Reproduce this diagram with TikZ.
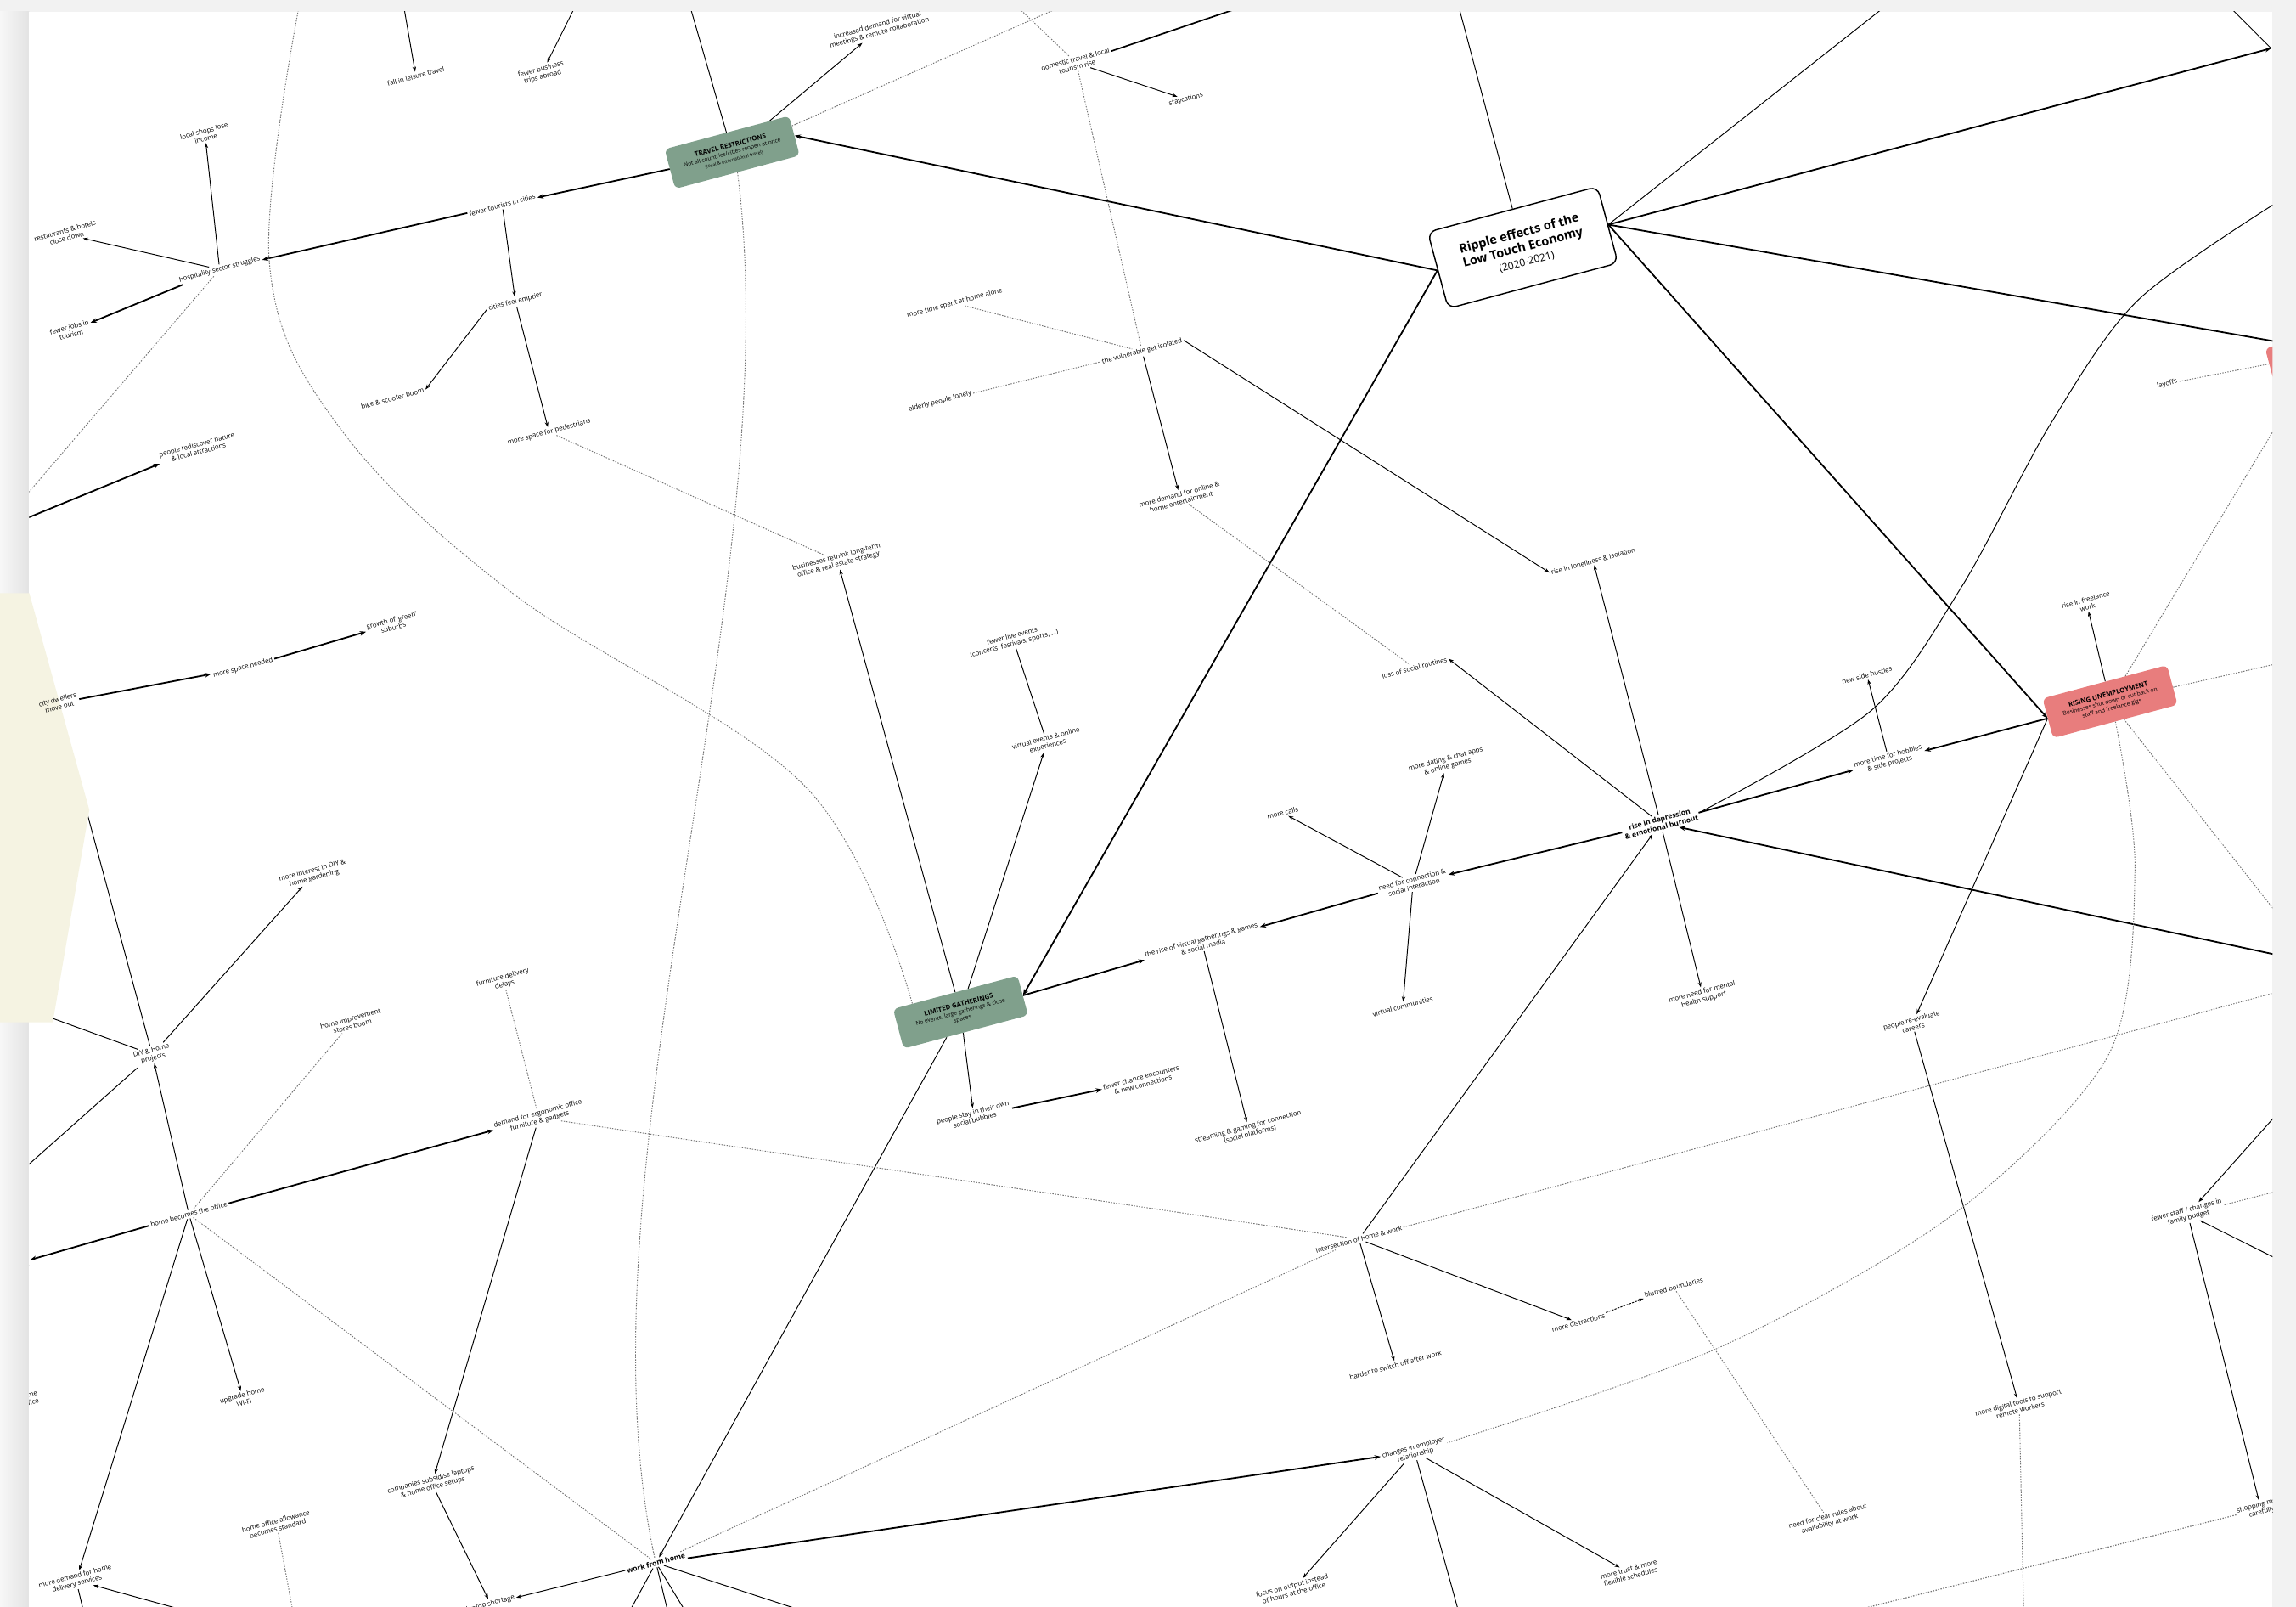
\documentclass[tikz,border=0pt]{standalone}
\usepackage{fontspec}
\setmainfont{Open Sans}
\usetikzlibrary{arrows.meta,positioning}
\pgfdeclarelayer{paper}
\pgfdeclarelayer{links}
\pgfsetlayers{paper,links,main}

\definecolor{sage}{RGB}{128,160,140}
\definecolor{salmon}{RGB}{232,125,125}
\definecolor{cream}{RGB}{245,243,226}

\tikzset{
	lbl/.style = {
		font=\fontsize{6.5}{7.5}\selectfont,
		align=center,
		rotate=15,
		inner sep=1.5pt
	},
	lblb/.style = {
		lbl,
		font=\fontsize{7}{8}\selectfont\bfseries
	},
	hub/.style = {
		draw,
		line width=1.2pt,
		fill=white,
		rounded corners=8pt,
		rotate=15,
		minimum width=6cm,
		minimum height=2.7cm,
		align=center,
		font=\fontsize{12}{14}\selectfont
	},
	topic/.style = {
		rounded corners=5pt,
		rotate=15,
		minimum width=4.4cm,
		minimum height=1.4cm,
		align=center,
		inner sep=2pt,
		font=\fontsize{5.5}{6.8}\selectfont
	},
	greentopic/.style = {topic, fill=sage},
	redtopic/.style = {topic, fill=salmon},
	link/.style = {
		-{Stealth[length=5pt,width=3.5pt]},
		line width=0.8pt
	},
	thicklink/.style = {
		-{Stealth[length=6pt,width=4.5pt]},
		line width=1.5pt
	},
	solidline/.style = {line width=0.8pt},
	hint/.style = {
		black!55,
		line width=0.8pt,
		dash pattern=on 1.2pt off 1.3pt
	}
}

\newcommand{\topichead}[1]{{\fontsize{6.5}{8}\selectfont\bfseries #1}}

\begin{document}
\begin{tikzpicture}[x=0.05cm, y=-0.05cm]
	\useasboundingbox (0,0) rectangle (1568,1097);

	% --- sheet and shadow ---
	\begin{pgfonlayer}{paper}
		\fill[gray!10] (0,0) rectangle (1568,1097);
		\fill[left color=gray!6, right color=gray!22] (0,8) rectangle (20,1097);
		\fill[white] (20,8) rectangle (1552,1097);
	\end{pgfonlayer}

	% beige shape on the left margin
	\fill[cream] (0,405) -- (20,405) -- (61,553) -- (36,698) -- (0,698) -- cycle;

	\begin{scope}
		\clip (20,8) rectangle (1552,1097);

		% --- centre and topics ---
		\node[hub] (hub) at (1040,169) {\textbf{Ripple effects of the}\\\textbf{Low Touch Economy}\\{\fontsize{10}{12}\selectfont (2020-2021)}};
		\node[greentopic] (g1) at (500,104) {\topichead{TRAVEL RESTRICTIONS}\\Not all countries/cities reopen at once\\{\fontsize{4.5}{5.5}\selectfont (local \& international travel)}};
		\node[greentopic] (g2) at (656,691) {\topichead{LIMITED GATHERINGS}\\No events, large gatherings \& close\\spaces};
		\node[redtopic] (r1) at (1441,479) {\topichead{RISING UNEMPLOYMENT}\\Businesses shut down or cut back on\\staff and freelance gigs};
		\node[redtopic] (r2) at (1593,240) {\topichead{BUSINESS CLOSURES}};

		% --- top left ---
		\node[lbl] (a1) at (284,52) {fall in leisure travel};
		\node[lbl] (a2) at (370,50) {fewer business\\trips abroad};
		\node[lbl] (a3) at (600,20) {increased demand for virtual\\meetings \& remote collaboration};
		\node[lbl] (a4) at (735,43) {domestic travel \& local\\tourism rise};
		\node[lbl] (a5) at (810,68) {staycations};
		\node[lbl] (b1) at (343,140) {fewer tourists in cities};
		\node[lbl] (b2) at (150,184) {hospitality sector struggles};
		\node[lbl] (b3) at (140,92) {local shops lose\\income};
		\node[lbl] (b4) at (45,160) {restaurants \& hotels\\close down};
		\node[lbl] (b5) at (48,226) {fewer jobs in\\tourism};
		\node[lbl] (b6) at (352,206) {cities feel emptier};
		\node[lbl] (b7) at (375,295) {more space for pedestrians};
		\node[lbl] (b8) at (135,306) {people rediscover nature\\\& local attractions};
		\node[lbl] (b9) at (8,358) {travellers\\stay};
		\node[lbl] (b10) at (268,272) {bike \& scooter boom};
		\node[lbl] (l1) at (40,480) {city dwellers\\move out};
		\node[lbl] (l2) at (166,456) {more space needed};
		\node[lbl] (l3) at (268,426) {growth of `green'\\suburbs};

		% --- middle ---
		\node[lbl] (c1) at (572,383) {businesses rethink long-term\\office \& real estate strategy};
		\node[lbl] (c2) at (692,437) {fewer live events\\(concerts, festivals, sports, ...)};
		\node[lbl] (c3) at (715,507) {virtual events \& online\\experiences};
		\node[lbl] (c4) at (652,207) {more time spent at home alone};
		\node[lbl] (c5) at (780,240) {the vulnerable get isolated};
		\node[lbl] (c6) at (642,274) {elderly people lonely};
		\node[lbl] (c7) at (806,340) {more demand for online \&\\home entertainment};
		\node[lbl] (d1) at (1088,383) {rise in loneliness \& isolation};
		\node[lbl] (d2) at (966,456) {loss of social routines};
		\node[lblb] (d3) at (1134,562) {rise in depression\\\& emotional burnout};
		\node[lbl] (d5) at (1163,680) {more need for mental\\health support};
		\node[lbl] (d6) at (965,603) {need for connection \&\\social interaction};
		\node[lbl] (d7) at (876,555) {more calls};
		\node[lbl] (d8) at (988,521) {more dating \& chat apps\\\& online games};
		\node[lbl] (d9) at (958,687) {virtual communities};
		\node[lbl] (d10) at (821,644) {the rise of virtual gatherings \& games\\\& social media};
		\node[lbl] (d11) at (853,772) {streaming \& gaming for connection\\(social platforms)};
		\node[lbl] (g2a) at (665,762) {people stay in their own\\social bubbles};
		\node[lbl] (g2b) at (780,738) {fewer chance encounters\\\& new connections};

		% --- right ---
		\node[lbl] (e1) at (1290,519) {more time for hobbies\\\& side projects};
		\node[lbl] (e3) at (1275,461) {new side hustles};
		\node[lbl] (e2) at (1306,699) {people re-evaluate\\careers};
		\node[lbl] (e4) at (1425,412) {rise in freelance\\work};
		\node[lbl] (e5) at (1480,262) {layoffs};
		\node[lbl] (m1) at (1379,960) {more digital tools to support\\remote workers};
		\node[lbl] (n1) at (1494,829) {fewer staff / changes in\\family budget};
		\node[lbl] (n2) at (1544,1030) {shopping more\\carefully};

		% --- bottom ---
		\node[lbl] (f1) at (928,846) {intersection of home \& work};
		\node[lbl] (f2) at (953,932) {harder to switch off after work};
		\node[lbl] (f3) at (1078,903) {more distractions};
		\node[lbl] (f4) at (1143,879) {blurred boundaries};
		\node[lbl] (f5) at (1249,1038) {need for clear rules about\\availability at work};
		\node[lblb] (h1) at (448,1067) {work from home};
		\node[lbl] (i1) at (966,991) {changes in employer\\relationship};
		\node[lbl] (i2) at (883,1085) {focus on output instead\\of hours at the office};
		\node[lbl] (i3) at (1113,1074) {more trust \& more\\flexible schedules};

		% --- bottom left ---
		\node[lbl] (k1) at (129,829) {home becomes the office};
		\node[lbl] (k2) at (368,763) {demand for ergonomic office\\furniture \& gadgets};
		\node[lbl] (k3) at (104,720) {DIY \& home\\projects};
		\node[lbl] (k4) at (166,955) {upgrade home\\Wi-Fi};
		\node[lbl] (k5) at (52,1079) {more demand for home\\delivery services};
		\node[lbl] (k6) at (240,698) {home improvement\\stores boom};
		\node[lbl] (k7) at (214,597) {more interest in DIY \&\\home gardening};
		\node[lbl] (k8) at (295,1013) {companies subsidise laptops\\\& home office setups};
		\node[lbl] (k9) at (344,670) {furniture delivery\\delays};
		\node[lbl] (k10) at (335,1095) {laptop shortage};
		\node[lbl] (k11) at (189,1041) {home office allowance\\becomes standard};
		\node[lbl] (p1) at (14,862) {more\\work};
		\node[lbl] (p2) at (20,955) {home\\office};
	\end{scope}

	% --- loose ends running off the sheet ---
	\coordinate (offtr) at (1551,33);
	\coordinate (offt1) at (995,0);
	\coordinate (offt2) at (1293,0);
	\coordinate (offt3) at (1518,0);
	\coordinate (offa1) at (275,0);
	\coordinate (offa2) at (395,0);
	\coordinate (offg1) at (470,0);
	\coordinate (offg1b) at (735,0);
	\coordinate (offa4) at (690,0);
	\coordinate (offa4b) at (862,0);
	\coordinate (offb2) at (12,345);
	\coordinate (offk3) at (50,520);
	\coordinate (offk3b) at (16,688);
	\coordinate (offk3c) at (14,800);
	\coordinate (offd3) at (1560,653);
	\coordinate (offr1a) at (1560,452);
	\coordinate (offr1b) at (1560,630);
	\coordinate (offr1c) at (1555,290);
	\coordinate (offf1) at (1560,676);
	\coordinate (offn1a) at (1560,755);
	\coordinate (offn1b) at (1560,862);
	\coordinate (offn1c) at (1560,812);
	\coordinate (offn2) at (1265,1100);
	\coordinate (offm1) at (1382,1100);
	\coordinate (offi1) at (996,1100);
	\coordinate (offk11) at (200,1100);
	\coordinate (offk5) at (128,1100);
	\coordinate (offk5b) at (57,1100);

	\begin{pgfonlayer}{links}
	\begin{scope}
		\clip (20,8) rectangle (1552,1097);

		% centre
		\draw[thicklink] (hub.west) -- (g1.east);
		\draw[thicklink] (hub.west) -- (g2.east);
		\draw[thicklink] (hub.east) -- (r1.west);
		\draw[thicklink] (hub.east) -- (r2);
		\draw[thicklink] (hub.east) -- (offtr);
		\draw[solidline] (hub.north) -- (offt1);
		\draw[solidline] (hub.east) -- (offt2);
		\draw[solidline] (offt3) -- (offtr);

		% travel restrictions
		\draw[thicklink] (g1.west) -- (b1);
		\draw[thicklink] (b1) -- (b2);
		\draw[thicklink] (b2) -- (b5);
		\draw[link] (b2) -- (b3);
		\draw[link] (b2) -- (b4);
		\draw[link] (b1) -- (b6);
		\draw[link] (b6) -- (b7);
		\draw[link] (b6.west) -- (b10.east);
		\draw[link] (g1) -- (a3);
		\draw[solidline] (offg1) -- (g1);
		\draw[link] (offa1) -- (a1);
		\draw[link] (offa2) -- (a2);
		\draw[link] (a4) -- (a5);
		\draw[solidline, line width=1.4pt] (a4) -- (offa4b);
		\draw[thicklink] (b9) -- (b8);
		\draw[thicklink] (l1) -- (l2);
		\draw[thicklink] (l2) -- (l3);
		\draw[hint] (g1) -- (offg1b);
		\draw[hint] (offa4) -- (a4);
		\draw[hint] (a4) -- (c5);
		\draw[hint] (b2) -- (offb2);
		\draw[hint] (b7) -- (c1);
		\draw[hint] plot[smooth, tension=0.6] coordinates {(205,0) (184,180) (232,292) (350,405) (550,537) (g2.155)};
		\draw[hint] (g1.south) .. controls (540,400) and (390,800) .. (h1.north);

		% isolation
		\draw[hint] (c4) -- (c5);
		\draw[hint] (c6) -- (c5);
		\draw[link] (c5) -- (c7);
		\draw[link] (c5.east) -- (d1.west);
		\draw[hint] (c7) -- (d2);
		\draw[link] (d3) -- (d2.east);
		\draw[link] (d3) -- (d1);
		\draw[link] (d3) -- (d5);
		\draw[thicklink] (d3) -- (e1);
		\draw[thicklink] (d3) -- (d6);
		\draw[link] (f1) -- (d3);
		\draw[thicklink] (offd3) -- (d3);
		\draw[solidline] plot[smooth] coordinates {(d3.east) (1278,485) (1340,400) (1400,290) (1460,205) (1560,135)};
		\draw[link] (d6) -- (d7);
		\draw[link] (d6) -- (d8);
		\draw[link] (d6) -- (d9);
		\draw[thicklink] (d6) -- (d10);

		% gatherings
		\draw[thicklink] (g2.east) -- (d10);
		\draw[link] (d10) -- (d11);
		\draw[link] (g2) -- (g2a);
		\draw[thicklink] (g2a) -- (g2b);
		\draw[link] (g2) -- (c1);
		\draw[link] (g2) -- (c3);
		\draw[solidline] (c2) -- (c3);
		\draw[link] (g2) -- (h1);

		% unemployment
		\draw[thicklink] (r1.west) -- (e1);
		\draw[link] (e1) -- (e3);
		\draw[link] (r1.west) -- (e2);
		\draw[link] (e2) -- (m1);
		\draw[link] (r1) -- (e4);
		\draw[hint] (r2) -- (e5);
		\draw[hint] (r1) -- (offr1a);
		\draw[hint] (r1) -- (offr1b);
		\draw[hint] (r1) -- (offr1c);
		\draw[hint] plot[smooth] coordinates {(r1.south) (1458,593) (1440,720) (1334,829) (1174,920) (i1.east)};
		\draw[hint] (m1) -- (offm1);
		\draw[link] (offn1a) -- (n1);
		\draw[link] (offn1b) -- (n1);
		\draw[hint] (n1) -- (offn1c);
		\draw[link] (n1) -- (n2);
		\draw[hint, line width=1pt] (n2) -- (offn2);

		% work from home
		\draw[link] (f1) -- (f2);
		\draw[link] (f1) -- (f3);
		\draw[link, dash pattern=on 2pt off 1pt] (f3) -- (f4);
		\draw[hint] (f4) -- (f5);
		\draw[hint] (f1) -- (offf1);
		\draw[hint] (k2) -- (f1);
		\draw[hint] (h1) -- (f1);
		\draw[thicklink] (h1) -- (i1);
		\draw[link] (i1) -- (i2);
		\draw[link] (i1) -- (i3);
		\draw[solidline] (i1) -- (offi1);
		\draw[link] (h1) -- (k10);
		\draw[link] (k8) -- (k10);
		\foreach \bx in {430,456,468,549}
			\draw[solidline] (h1) -- (\bx,1100);

		% home office
		\draw[thicklink] (k1) -- (k2);
		\draw[link] (k1) -- (k3);
		\draw[link] (k1) -- (k4);
		\draw[thicklink] (k1) -- (p1);
		\draw[link] (k1) -- (k5);
		\draw[hint] (k1) -- (k6);
		\draw[hint] (k1) -- (h1);
		\draw[link] (k2) -- (k8);
		\draw[hint] (k9) -- (k2);
		\draw[link] (k3) -- (k7);
		\draw[solidline] (offk3) -- (k3);
		\draw[solidline] (offk3b) -- (k3);
		\draw[solidline] (k3) -- (offk3c);
		\draw[hint] (k11) -- (offk11);
		\draw[link] (offk5) -- (k5);
		\draw[solidline] (k5) -- (offk5b);
	\end{scope}
	\end{pgfonlayer}

\end{tikzpicture}
\end{document}
